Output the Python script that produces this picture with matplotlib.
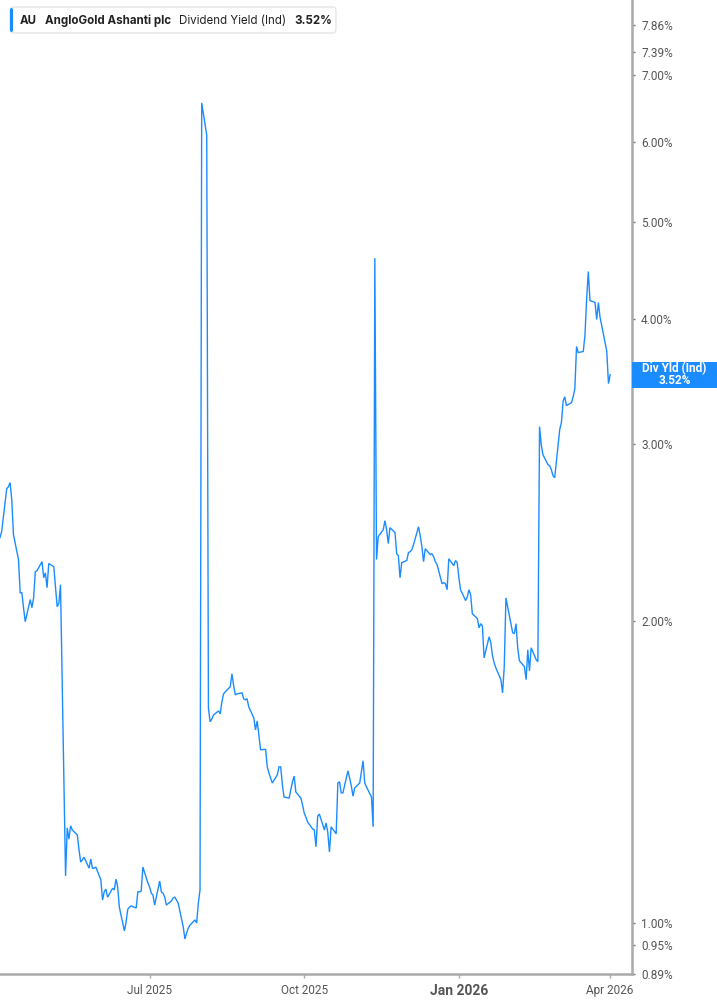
import matplotlib
matplotlib.use("Agg")
import matplotlib.pyplot as plt
import matplotlib.ticker as mticker
from matplotlib.patches import FancyBboxPatch, Rectangle
import pandas as pd

# daily dividend yield (%), one value per business day
start_date = "2025-04-03"
div_yield = [
    2.422, 2.456, 2.710, 2.722, 2.748, 2.643, 2.439, 2.303, 2.134, 2.134,
    2.062, 1.997, 2.101, 2.062, 2.109, 2.240, 2.245, 2.292, 2.209, 2.234,
    2.159, 2.282, 2.266, 2.164, 2.067, 2.082, 2.174,
    1.114, 1.244, 1.212, 1.250, 1.238, 1.224, 1.183, 1.150, 1.156, 1.163,
    1.134, 1.158, 1.134, 1.134, 1.137, 1.104, 1.054, 1.074, 1.081, 1.061,
    1.083, 1.079, 1.106, 1.086, 1.037, 0.982, 1.002, 1.032, 1.037, 1.040,
    1.035, 1.074, 1.074, 1.076, 1.137, 1.096, 1.086, 1.071, 1.066, 1.042,
    1.101, 1.074, 1.071, 1.061, 1.042, 1.052, 1.059, 1.061, 1.054, 1.047,
    0.991, 0.964, 0.977, 0.988, 0.995, 1.007, 1.000, 1.047, 1.079,
    6.57, 6.10,
    1.638, 1.587, 1.597, 1.612, 1.627, 1.616, 1.661, 1.692, 1.700, 1.720,
    1.772, 1.724, 1.688, 1.692, 1.696, 1.673, 1.669, 1.673, 1.642, 1.601,
    1.558, 1.590, 1.540, 1.488, 1.490, 1.431, 1.411, 1.395, 1.379, 1.405,
    1.431, 1.431, 1.373, 1.335, 1.332, 1.357, 1.383, 1.401, 1.351, 1.332,
    1.311, 1.287, 1.275, 1.261, 1.241, 1.238, 1.191, 1.278, 1.284, 1.238,
    1.258, 1.232, 1.177, 1.247, 1.227, 1.379, 1.383, 1.348, 1.348, 1.418,
    1.395, 1.370, 1.338, 1.363, 1.379, 1.414, 1.451, 1.379, 1.367, 1.335,
    1.247,
    4.60,
    2.303, 2.427, 2.467, 2.518, 2.467, 2.389, 2.478, 2.450, 2.334, 2.323,
    2.209, 2.287, 2.298, 2.340, 2.345, 2.356, 2.383, 2.483, 2.433, 2.372,
    2.292, 2.361, 2.329, 2.334, 2.318, 2.292, 2.277, 2.179, 2.184, 2.179,
    2.149, 2.307, 2.271, 2.298, 2.287, 2.209, 2.149, 2.096, 2.114, 2.149,
    2.124, 2.034, 2.011, 1.969, 1.988, 1.978, 1.838, 1.929, 1.903, 1.846,
    1.817, 1.796, 1.748, 1.696, 1.801, 2.109, 2.067, 1.947, 1.943, 1.988,
    1.881, 1.826, 1.801, 1.748, 1.872, 1.784, 1.881, 1.830, 1.822,
    3.125, 2.998, 2.930, 2.864, 2.857, 2.831, 2.792, 2.779, 3.104, 3.154,
    3.310, 3.347, 3.279, 3.302, 3.347, 3.409, 3.756, 3.704, 3.713, 3.851,
    4.184, 4.461, 4.174, 4.155, 3.996, 4.155, 4.014, 3.941, 3.713, 3.449,
    3.52,
]

y_ticks = [0.89, 0.95, 1.00, 2.00, 3.00, 4.00, 5.00, 6.00, 7.00, 7.39, 7.86]
x_ticks = ["2025-07-01", "2025-10-01", "2026-01-01", "2026-04-01"]
x_labels = ["Jul 2025", "Oct 2025", "Jan 2026", "Apr 2026"]

BLUE = "#1a8cff"
GREY = "#aaaaaa"
TXT = "#555555"
W, H = 717, 1005

dates = pd.bdate_range(start_date, periods=len(div_yield))

fig = plt.figure(figsize=(W / 100, H / 100), dpi=100)
ax = fig.add_axes([0, 31 / H, 632 / W, 974 / H])

ax.plot(dates, div_yield, color=BLUE, lw=1.0, solid_joinstyle="miter")

ax.set_yscale("log")
ax.set_ylim(0.8895, 8.32)
ax.set_xlim(pd.Timestamp("2025-04-03"), pd.Timestamp("2026-04-14"))

ax.yaxis.tick_right()
ax.yaxis.set_major_locator(mticker.FixedLocator(y_ticks))
ax.yaxis.set_minor_locator(mticker.NullLocator())
ax.yaxis.set_major_formatter(mticker.FuncFormatter(lambda v, p: f"{v:.2f}%"))
ax.tick_params(axis="y", direction="out", length=2.5, width=1, color="#777777",
               pad=4, labelsize=8.5, labelcolor=TXT)

ax.set_xticks(pd.to_datetime(x_ticks))
ax.set_xticklabels(x_labels)
ax.tick_params(axis="x", direction="out", length=3, width=1, color=GREY,
               pad=4, labelsize=8.5, labelcolor=TXT)
for lbl in ax.get_xticklabels():
    lbl.set_family("Roboto")
    if lbl.get_text() == "Jan 2026":
        lbl.set_fontweight("bold")
        lbl.set_fontsize(10)
for lbl in ax.get_yticklabels():
    lbl.set_family("Roboto")

for s in ["top", "left"]:
    ax.spines[s].set_visible(False)
for s in ["right", "bottom"]:
    ax.spines[s].set_color(GREY)
    ax.spines[s].set_linewidth(1.8)


def fx(px):
    return px / W


def fy(py):
    return 1 - py / H


# last value tag on the right axis, placed at the last value's height
last = div_yield[-1]
y_disp = ax.transData.transform((ax.get_xlim()[0], last))[1]
fig.patches.append(Rectangle((fx(632), (y_disp - 13) / H), fx(85), 26 / H,
                             transform=fig.transFigure, fc=BLUE, ec="none"))
fig.text(fx(674.5), (y_disp + 6) / H, "Div Yld (Ind)", color="white",
         fontsize=8.5, fontweight="bold", family="Roboto", ha="center", va="center")
fig.text(fx(674.5), (y_disp - 6) / H, f"{last:.2f}%", color="white",
         fontsize=8.5, fontweight="bold", family="Roboto", ha="center", va="center")

# header legend box
fig.patches.append(FancyBboxPatch((fx(10), fy(33)), fx(326), 26 / H,
                                  boxstyle="round,pad=0,rounding_size=0.004",
                                  transform=fig.transFigure, fc="white",
                                  ec="#e6e6e6", lw=1))
fig.patches.append(FancyBboxPatch((fx(10), fy(32)), fx(3), 24 / H,
                                  boxstyle="round,pad=0,rounding_size=0.002",
                                  transform=fig.transFigure, fc=BLUE, ec="none"))
hy = fy(20.5)
hs = 8.3
fig.text(fx(20), hy, "AU", fontsize=hs, fontweight="bold", va="center",
         family="Inter", color="#222222")
fig.text(fx(45), hy, "AngloGold Ashanti plc", fontsize=hs, fontweight="bold",
         va="center", family="Inter", color="#222222")
fig.text(fx(179), hy, "Dividend Yield (Ind)", fontsize=hs, va="center",
         family="Inter", color="#222222")
fig.text(fx(294), hy, f"{last:.2f}%", fontsize=hs, fontweight="bold",
         va="center", family="Inter", color="#222222")

fig.savefig("out.png", dpi=100)
